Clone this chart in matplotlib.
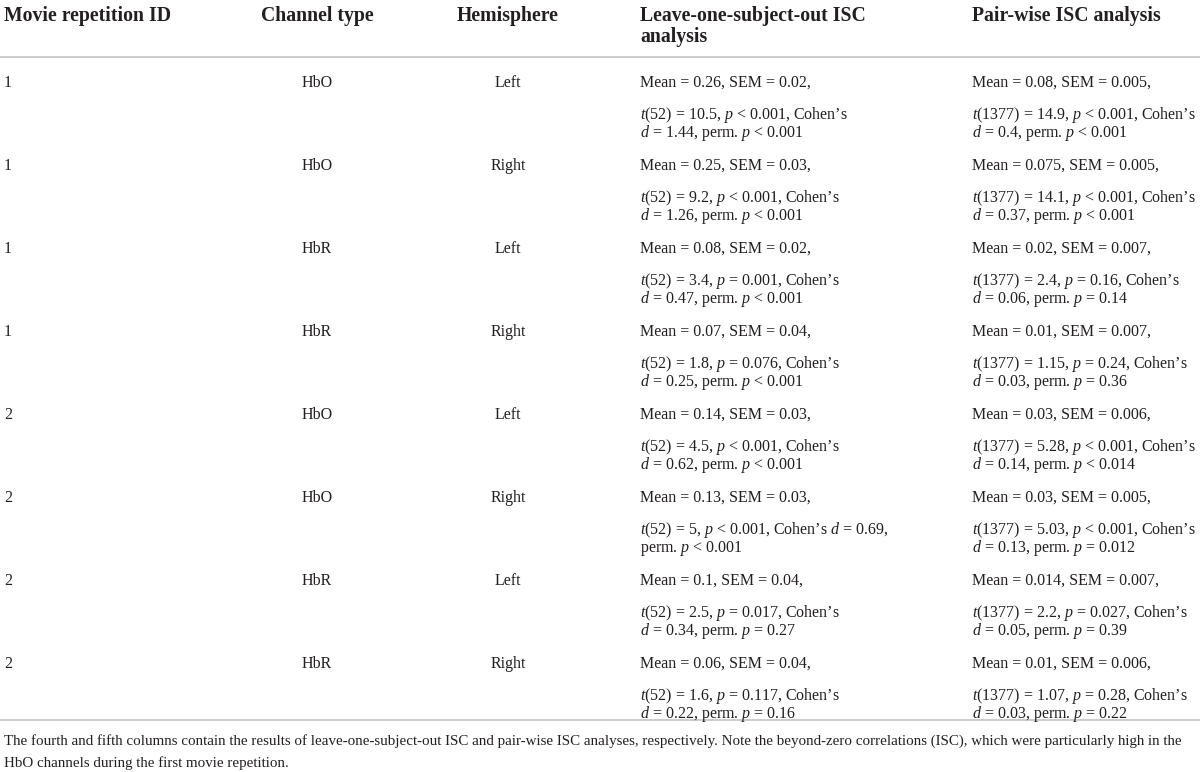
import matplotlib
matplotlib.use("Agg")
import matplotlib.pyplot as plt

plt.rcParams['font.family'] = ['Liberation Serif', 'DejaVu Serif']
plt.rcParams['mathtext.fontset'] = 'custom'
plt.rcParams['mathtext.rm'] = 'Liberation Serif'
plt.rcParams['mathtext.it'] = 'Liberation Serif:italic'
plt.rcParams['mathtext.bf'] = 'Liberation Serif:bold'

# ---- data ----
headers = ["Movie repetition ID", "Channel type", "Hemisphere",
           "Leave-one-subject-out ISC\nanalysis", "Pair-wise ISC analysis"]
rep_ids = ["1", "1", "1", "1", "2", "2", "2", "2"]
channels = ["HbO", "HbO", "HbR", "HbR", "HbO", "HbO", "HbR", "HbR"]
hemis = ["Left", "Right", "Left", "Right", "Left", "Right", "Left", "Right"]

loso_mean = ["0.26", "0.25", "0.08", "0.07", "0.14", "0.13", "0.1", "0.06"]
loso_sem = ["0.02", "0.03", "0.02", "0.04", "0.03", "0.03", "0.04", "0.04"]
loso_t = ["10.5", "9.2", "3.4", "1.8", "4.5", "5", "2.5", "1.6"]
loso_p = ["< 0.001", "< 0.001", "= 0.001", "= 0.076", "< 0.001", "< 0.001", "= 0.017", "= 0.117"]
loso_d = ["1.44", "1.26", "0.47", "0.25", "0.62", "0.69", "0.34", "0.22"]
loso_perm = ["< 0.001", "< 0.001", "< 0.001", "< 0.001", "< 0.001", "< 0.001", "= 0.27", "= 0.16"]
loso_d_on_line2 = [False, False, False, False, False, True, False, False]

pw_mean = ["0.08", "0.075", "0.02", "0.01", "0.03", "0.03", "0.014", "0.01"]
pw_sem = ["0.005", "0.005", "0.007", "0.007", "0.006", "0.005", "0.007", "0.006"]
pw_t = ["14.9", "14.1", "2.4", "1.15", "5.28", "5.03", "2.2", "1.07"]
pw_p = ["< 0.001", "< 0.001", "= 0.16", "= 0.24", "< 0.001", "< 0.001", "= 0.027", "= 0.28"]
pw_d = ["0.4", "0.37", "0.06", "0.03", "0.14", "0.13", "0.05", "0.03"]
pw_perm = ["< 0.001", "< 0.001", "= 0.14", "= 0.36", "< 0.014", "= 0.012", "= 0.39", "= 0.22"]

loso_df = "52"
pw_df = "1377"

footnote = ["The fourth and fifth columns contain the results of leave-one-subject-out ISC and pair-wise ISC analyses, respectively. Note the beyond-zero correlations (ISC), which were particularly high in the",
            "HbO channels during the first movie repetition."]

# ---- layout ----
W, H = 1200, 772
fig = plt.figure(figsize=(W / 100, H / 100), dpi=100)
ax = fig.add_axes([0, 0, 1, 1])
ax.set_xlim(0, W)
ax.set_ylim(H, 0)
ax.axis('off')

body_fs = 11.5
head_fs = 14.2
foot_fs = 10.8
txt_col = '#231f20'
rule_col = '#c8c8c8'

col_x = [4, 317, 508, 640, 972]
col_ha = ['left', 'center', 'center', 'left', 'left']

# headers
for j, h in enumerate(headers):
    ax.text(col_x[j], 6, h, ha=col_ha[j], va='top', linespacing=1.05,
            fontsize=head_fs, fontweight='bold', color=txt_col)

ax.plot([0, W], [57, 57], color=rule_col, lw=1.3, solid_capstyle='butt')
ax.plot([0, W], [720, 720], color=rule_col, lw=1.3, solid_capstyle='butt')

I = lambda s: r"$\mathit{" + s + "}$"

row_y0 = 83
pitch = 83
for i in range(len(rep_ids)):
    y = row_y0 + pitch * i
    ax.text(col_x[0], y, rep_ids[i], ha='left', va='center', fontsize=body_fs, color=txt_col)
    ax.text(col_x[1], y, channels[i], ha='center', va='center', fontsize=body_fs, color=txt_col)
    ax.text(col_x[2], y, hemis[i], ha='center', va='center', fontsize=body_fs, color=txt_col)

    # leave-one-subject-out
    l1 = f"Mean = {loso_mean[i]}, SEM = {loso_sem[i]},"
    if loso_d_on_line2[i]:
        l2 = f"{I('t')}({loso_df}) = {loso_t[i]}, {I('p')} {loso_p[i]}, Cohen’s {I('d')} = {loso_d[i]},"
        l3 = f"perm. {I('p')} {loso_perm[i]}"
    else:
        l2 = f"{I('t')}({loso_df}) = {loso_t[i]}, {I('p')} {loso_p[i]}, Cohen’s"
        l3 = f"{I('d')} = {loso_d[i]}, perm. {I('p')} {loso_perm[i]}"
    ax.text(col_x[3], y, l1, ha='left', va='center', fontsize=body_fs, color=txt_col)
    ax.text(col_x[3], y + 41, l2 + "\n" + l3, ha='left', va='center',
            linespacing=0.85, fontsize=body_fs, color=txt_col)

    # pair-wise
    p1 = f"Mean = {pw_mean[i]}, SEM = {pw_sem[i]},"
    p2 = f"{I('t')}({pw_df}) = {pw_t[i]}, {I('p')} {pw_p[i]}, Cohen’s"
    p3 = f"{I('d')} = {pw_d[i]}, perm. {I('p')} {pw_perm[i]}"
    ax.text(col_x[4], y, p1, ha='left', va='center', fontsize=body_fs, color=txt_col)
    ax.text(col_x[4], y + 41, p2 + "\n" + p3, ha='left', va='center',
            linespacing=0.85, fontsize=body_fs, color=txt_col)

ax.text(4, 752, "\n".join(footnote), ha='left', va='center', linespacing=1.75,
        fontsize=foot_fs, color=txt_col)

fig.savefig("out.png", dpi=100, facecolor='white')
